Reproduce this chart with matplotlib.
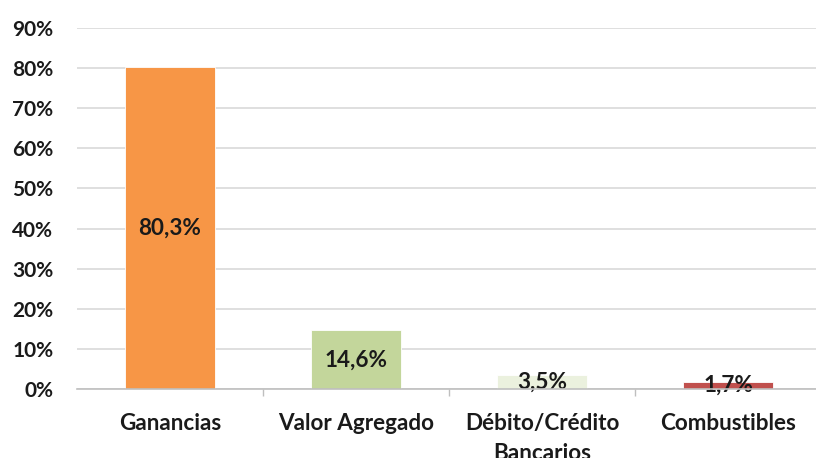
import matplotlib
matplotlib.use("Agg")
import matplotlib.pyplot as plt
import numpy as np

categories = ["Ganancias", "Valor Agregado", "Débito/Crédito\nBancarios", "Combustibles"]
values = [80.3, 14.6, 3.5, 1.7]
labels = ["80,3%", "14,6%", "3,5%", "1,7%"]
colors = ["#F79646", "#C3D69B", "#EBF1DE", "#C0504D"]
yticks = [0, 10, 20, 30, 40, 50, 60, 70, 80, 90]

plt.rcParams['font.family'] = ['Lato', 'DejaVu Sans']
fig = plt.figure(figsize=(8.16, 4.58), dpi=100)
ax = fig.add_axes([77/816, 1-389/458, 744/816, (389-28)/458])

FS = 15
FX = 16.2
x = np.arange(len(categories))
bars = ax.bar(x, values, width=0.485, color=colors, edgecolor="white", linewidth=0.6, zorder=3)
for b, lab, v in zip(bars, labels, values):
    ax.text(b.get_x() + b.get_width()/2, v/2, lab, ha="center", va="center",
            fontsize=FX, fontweight="bold", color="#1a1a1a", zorder=4)

ax.set_xlim(-0.5, len(categories) - 0.5)
ax.set_ylim(0, 90)
ax.set_yticks(yticks)
ax.set_yticklabels([f"{t}%" for t in yticks], fontsize=FS, fontweight="bold", color="#1a1a1a")
ax.set_xticks(x)
ax.set_xticklabels(categories, fontsize=FX, fontweight="bold", color="#1a1a1a", linespacing=1.55)
ax.set_xticks(np.arange(0.5, len(categories) - 0.5, 1), minor=True)
ax.tick_params(axis="x", which="major", length=0, pad=17)
ax.tick_params(axis="x", which="minor", length=5, color="#BFBFBF", width=1)
ax.tick_params(axis="y", length=0, pad=17)

ax.yaxis.grid(True, color="#D9D9D9", linewidth=1.2, zorder=0)
ax.set_axisbelow(True)
for s in ["top", "right", "left"]:
    ax.spines[s].set_visible(False)
ax.spines["bottom"].set_color("#BFBFBF")
ax.spines["bottom"].set_linewidth(1.2)
ax.spines["bottom"].set_zorder(5)

fig.savefig("out.png", dpi=100)
